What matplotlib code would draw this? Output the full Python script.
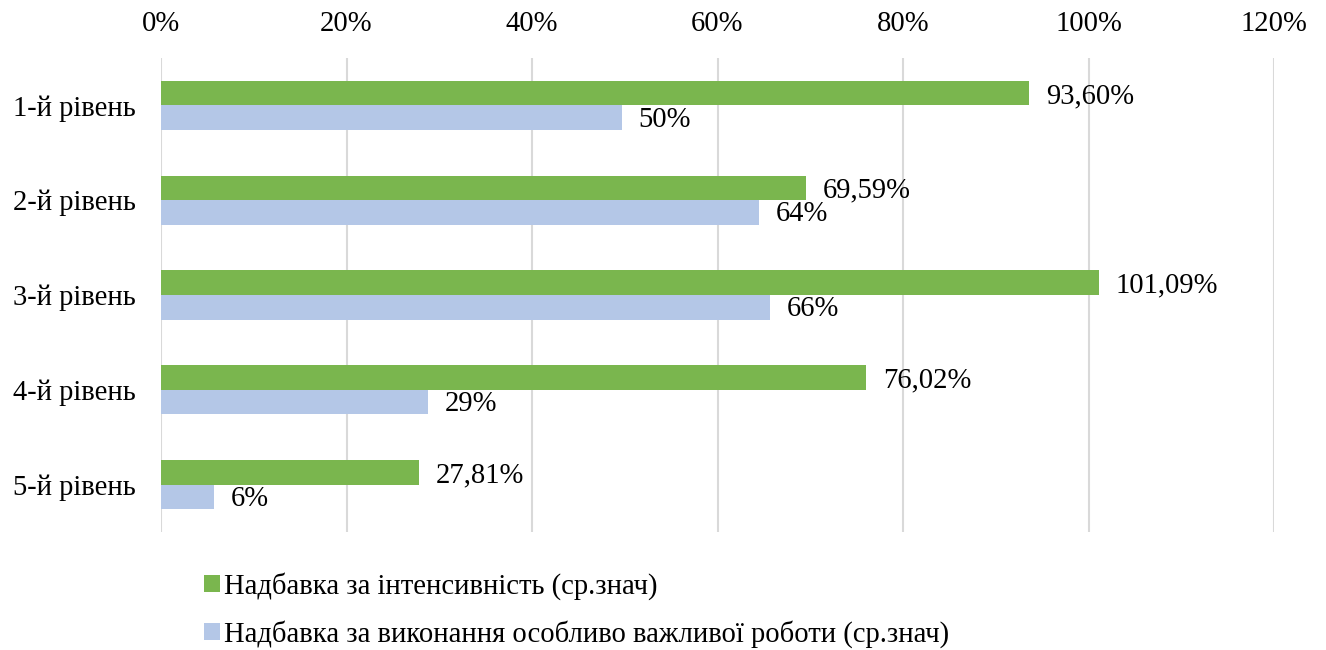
import matplotlib
matplotlib.use("Agg")
import matplotlib.pyplot as plt
import numpy as np
from matplotlib.patches import Patch

plt.rcParams['font.family'] = ['Liberation Serif', 'DejaVu Serif']

categories = ['1-й рівень', '2-й рівень', '3-й рівень', '4-й рівень', '5-й рівень']
intensity = [93.60, 69.59, 101.09, 76.02, 27.81]
important_work = [49.7, 64.5, 65.7, 28.8, 5.7]
series_names = ['Надбавка за інтенсивність (ср.знач)',
                'Надбавка за виконання особливо важливої роботи (ср.знач)']
x_ticks = [0, 20, 40, 60, 80, 100, 120]

green = '#7AB64E'
blue = '#B4C7E7'
fs = 20.6

fig = plt.figure(figsize=(13.26, 6.5), dpi=100)
ax = fig.add_axes([161 / 1326, 1 - 532 / 650, (1274 - 161) / 1326, (532 - 58) / 650])

y = np.arange(len(categories))
h = 0.26
ax.barh(y - h / 2, intensity, height=h, color=green, zorder=3)
ax.barh(y + h / 2, important_work, height=h, color=blue, zorder=3)

for yi, v in zip(y, intensity):
    ax.annotate(f'{v:.2f}%'.replace('.', ','), (v, yi - h / 2 + 0.03),
                xytext=(12, 0), textcoords='offset points',
                va='center', ha='left', fontsize=fs)
for yi, v in zip(y, important_work):
    ax.annotate(f'{round(v):d}%', (v, yi + h / 2 + 0.02),
                xytext=(12, 0), textcoords='offset points',
                va='center', ha='left', fontsize=fs)

ax.set_xlim(0, 120)
ax.set_ylim(len(categories) - 0.5, -0.5)
ax.set_xticks(x_ticks)
ax.set_xticklabels([f'{t}%' for t in x_ticks], fontsize=fs)
ax.xaxis.tick_top()
ax.set_yticks(y)
ax.set_yticklabels(categories, fontsize=fs)
ax.tick_params(axis='both', length=0)
ax.tick_params(axis='x', pad=15)
ax.tick_params(axis='y', pad=18)
ax.grid(axis='x', color='#D9D9D9', linewidth=1.5, zorder=0)
for s in ax.spines.values():
    s.set_visible(False)

handles = [Patch(facecolor=green), Patch(facecolor=blue)]
fig.legend(handles, series_names, loc='upper left',
           bbox_to_anchor=(190 / 1326, 1 - 558 / 650), frameon=False,
           fontsize=fs, handlelength=0.55, handleheight=0.55,
           handletextpad=0.15, labelspacing=0.7, borderpad=0)

fig.savefig('out.png', dpi=100)
